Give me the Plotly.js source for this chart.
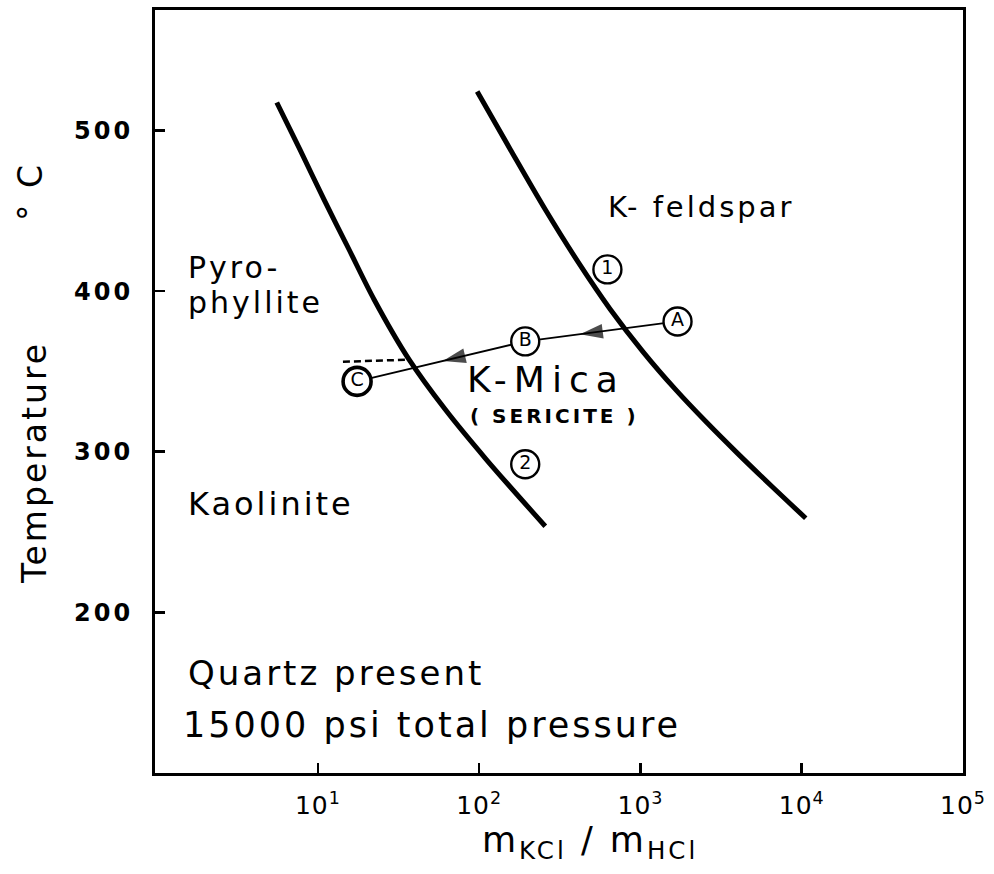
<!DOCTYPE html>
<html>
<head>
<meta charset="utf-8">
<script src="https://cdn.plot.ly/plotly-3.0.1.min.js"></script>
<style>
  html, body { margin: 0; padding: 0; background: #fff; }
  .annotation-text { letter-spacing: 3px; }
  g.annotation[data-index="3"] .annotation-text { letter-spacing: 7px; }
  .ytick text { letter-spacing: 3px; }
  .xtick text { letter-spacing: 1px; }
</style>
</head>
<body>
<div id="chart" style="width:994px;height:874px;"></div>
<script>
// ---- Data ----
// Boundary 1: Kaolinite/Pyrophyllite vs K-Mica
const curve1X = [5.56, 7.73, 10.9, 15.6, 22.3, 36.7, 61.5, 110.5, 257];
const curve1Y = [517.4, 488.2, 457.1, 425.9, 394.8, 357.5, 326.4, 295.3, 253.6];
// Boundary 2: K-Mica vs K-feldspar
const curve2X = [97.2, 156, 257, 412, 651, 1044, 1648, 2570, 3945, 6516, 10590];
const curve2Y = [524.3, 488.2, 450.8, 417.9, 388.6, 361.9, 338.8, 318.3, 299.6, 278.5, 258.6];
// Path A -> B -> C
const pathLabels = ["A", "B", "C"];
const pathX = [1698, 193, 17.5];
const pathY = [381.1, 368.7, 343.8];
// Dashed segment near C
const dashX = [14.3, 36.2];
const dashY = [356.0, 357.3];
// Numbered circles on the boundaries
const numLabels = ["1", "2"];
const numX = [624, 193];
const numY = [413.5, 292.2];
// Axis ticks
const xTickVals = [10, 100, 1000, 10000, 100000];
const xTickText = ["10<sup>1</sup>", "10<sup>2</sup>", "10<sup>3</sup>", "10<sup>4</sup>", "10<sup>5</sup>"];
const yTickVals = [200, 300, 400, 500];
const yTickText = ["200", "300", "400", "500"];

// ---- Layout helpers (pixel -> paper) ----
const L = 155, R = 31, T = 10, B = 101, W = 994, H = 874;
const pw = W - L - R, ph = H - T - B;
const px = x => (x - L) / pw;
const py = y => (H - B - y) / ph;
const FONT = "DejaVu Sans";

const traces = [
  { x: curve1X, y: curve1Y, mode: "lines", line: { color: "#000", width: 5, shape: "spline", smoothing: 0.9 }, hoverinfo: "skip" },
  { x: curve2X, y: curve2Y, mode: "lines", line: { color: "#000", width: 5, shape: "spline", smoothing: 0.9 }, hoverinfo: "skip" },
  { x: dashX, y: dashY, mode: "lines", line: { color: "#000", width: 2.5, dash: "7px,4px" }, hoverinfo: "skip" },
  { x: pathX, y: pathY, mode: "lines", line: { color: "#000", width: 1.8 }, hoverinfo: "skip" }
];

// arrowheads along A->B and B->C segments (positions derived from the data points)
const arrowFrac = [0.64, 0.49];
arrowFrac.forEach((f, i) => {
  const lx0 = Math.log10(pathX[i]), lx1 = Math.log10(pathX[i + 1]);
  const g = f - 0.05;
  const pts = [g, f].map(t => [Math.pow(10, lx0 + (lx1 - lx0) * t), pathY[i] + (pathY[i + 1] - pathY[i]) * t]);
  traces.push({ x: pts.map(p => p[0]), y: pts.map(p => p[1]), mode: "markers",
    marker: { symbol: "arrow", size: [0, 24], color: "#000", angleref: "previous", line: { width: 0 } },
    hoverinfo: "skip" });
});

traces.push({ x: pathX.concat(numX), y: pathY.concat(numY), text: pathLabels.concat(numLabels),
  mode: "markers+text", textposition: "middle center",
  textfont: { family: FONT, size: 19, color: "#000" },
  marker: { symbol: "circle", size: 28, color: "#fff", line: { color: "#000", width: [2.4, 2.4, 3.6, 2.4, 2.4] } },
  hoverinfo: "skip" });

function lab(text, x, y, size, opts) {
  return Object.assign({ text: text, xref: "paper", yref: "paper", x: px(x), y: py(y),
    xanchor: "left", yanchor: "middle", showarrow: false,
    font: { family: FONT, size: size, color: "#000" } }, opts || {});
}

const annotations = [
  lab("K- feldspar", 606, 207, 29),
  lab("Pyro-", 186, 267, 30),
  lab("phyllite", 186, 302, 30),
  lab("K-Mica", 477, 380, 36),
  lab("( SERICITE )", 468, 416, 20, { font: { family: FONT, size: 20, color: "#000", weight: "bold" } }),
  lab("Kaolinite", 186, 504, 32),
  lab("Quartz present", 186, 673, 34),
  lab("15000 psi total pressure", 181, 725, 35),
  lab("Temperature", 35, 463, 33, { xanchor: "center", textangle: -90 }),
  lab("° C", 30, 192, 33, { xanchor: "center", textangle: -90 }),
  lab("m<sub>KCl</sub> / m<sub>HCl</sub>", 590, 842, 35, { xanchor: "center" })
];

const layout = {
  width: W, height: H,
  margin: { l: L, r: R, t: T, b: B },
  paper_bgcolor: "#fff", plot_bgcolor: "#fff",
  showlegend: false,
  font: { family: FONT, color: "#000" },
  xaxis: {
    type: "log", range: [-0.01, 5.0],
    tickmode: "array", tickvals: xTickVals, ticktext: xTickText,
    ticks: "inside", ticklen: 10, tickwidth: 2.5, tickcolor: "#000",
    showline: true, linewidth: 3, linecolor: "#000", mirror: true,
    showgrid: false, zeroline: false,
    tickfont: { family: FONT, size: 25, color: "#000" },
    ticklabelstandoff: 8
  },
  yaxis: {
    range: [100, 575],
    tickmode: "array", tickvals: yTickVals, ticktext: yTickText,
    ticks: "inside", ticklen: 10, tickwidth: 2.5, tickcolor: "#000",
    showline: true, linewidth: 3, linecolor: "#000", mirror: true,
    showgrid: false, zeroline: false,
    tickfont: { family: FONT, size: 24, color: "#000", weight: "bold" },
    ticklabelstandoff: 14
  },
  annotations: annotations
};

Plotly.newPlot("chart", traces, layout, { staticPlot: true, displayModeBar: false });
</script>
</body>
</html>
